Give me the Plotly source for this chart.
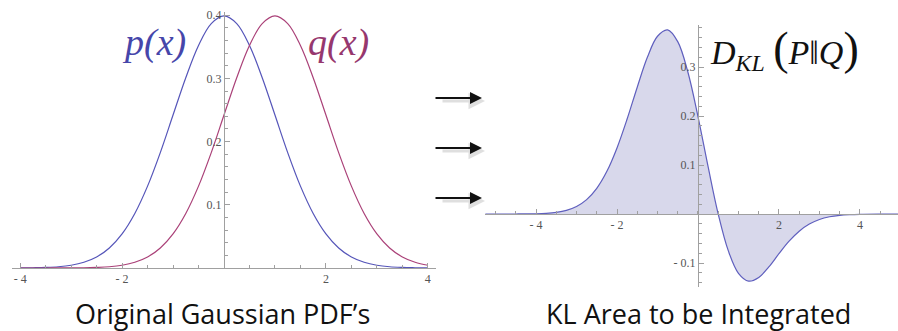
import plotly.graph_objects as go

# ---- data ----
x_pdf = [-4.0, -3.75, -3.5, -3.25, -3.0, -2.75, -2.5, -2.25, -2.0, -1.75, -1.5, -1.25, -1.0,
         -0.75, -0.5, -0.25, 0.0, 0.25, 0.5, 0.75, 1.0, 1.25, 1.5, 1.75, 2.0, 2.25, 2.5,
         2.75, 3.0, 3.25, 3.5, 3.75, 4.0]
p_vals = [0.0001, 0.0004, 0.0009, 0.002, 0.0044, 0.0091, 0.0175, 0.0317, 0.054, 0.0863, 0.1295,
          0.1826, 0.242, 0.3011, 0.3521, 0.3867, 0.3989, 0.3867, 0.3521, 0.3011, 0.242, 0.1826,
          0.1295, 0.0863, 0.054, 0.0317, 0.0175, 0.0091, 0.0044, 0.002, 0.0009, 0.0004, 0.0001]
q_vals = [0.00001, 0.00002, 0.00003, 0.00006, 0.00013, 0.0003, 0.0009, 0.0020, 0.0044, 0.0091, 0.0175,
          0.0317, 0.054, 0.0863, 0.1295, 0.1826, 0.242, 0.3011, 0.3521, 0.3867, 0.3989, 0.3867,
          0.3521, 0.3011, 0.242, 0.1826, 0.1295, 0.0863, 0.054, 0.0317, 0.0175, 0.0091, 0.0044]

x_kl = [-5.25, -5.0, -4.5, -4.0, -3.75, -3.5, -3.25, -3.0, -2.75, -2.5, -2.25, -2.0, -1.75, -1.5,
        -1.25, -1.0, -0.75, -0.5, -0.25, 0.0, 0.25, 0.5, 0.75, 1.0, 1.25, 1.5, 1.75, 2.0,
        2.25, 2.5, 2.75, 3.0, 3.25, 3.5, 3.75, 4.0, 4.5, 4.94]
kl_vals = [0.0, 0.0, 0.0001, 0.0006, 0.0015, 0.0035, 0.0076, 0.0155, 0.0295, 0.0525, 0.0872,
           0.135, 0.194, 0.259, 0.320, 0.363, 0.376, 0.352, 0.290, 0.199, 0.0967, 0.0,
           -0.0753, -0.121, -0.137, -0.1295, -0.108, -0.081, -0.0555, -0.035, -0.0205,
           -0.0111, -0.0056, -0.0026, -0.0012, -0.0005, -0.0001, 0.0]

left_xticks = [-4, -2, 2, 4]
left_xlabels = ["- 4", "- 2", "2", "4"]
left_yticks = [0.1, 0.2, 0.3, 0.4]
left_ylabels = ["0.1", "0.2", "0.3", "0.4"]
right_xticks = [-4, -2, 2, 4]
right_xlabels = ["- 4", "- 2", "2", "4"]
right_yticks = [-0.1, 0.1, 0.2, 0.3]
right_ylabels = ["- 0.1", "0.1", "0.2", "0.3"]

# ---- layout geometry ----
W, H = 898, 331
P_COL = "rgb(85,85,185)"
Q_COL = "rgb(170,65,120)"
AX_COL = "#a0a0a0"
TICK_FONT = dict(family="Liberation Serif", size=12, color="#555")

lx_range = [-4.16, 4.16]
ly_range = [0.0, 0.405]
lx_dom = [12 / W, 436 / W]
ly_dom = [(H - 268) / H, (H - 12) / H]

rx_range = [-5.26, 4.94]
ry_range = [-0.149, 0.386]
rx_dom = [485 / W, 1.0]
ry_dom = [(H - 287) / H, (H - 25) / H]


def frac(v, rng, dom):
    return dom[0] + (v - rng[0]) / (rng[1] - rng[0]) * (dom[1] - dom[0])


def minor_vals(lo, hi, step):
    n = int(round((hi - lo) / step))
    return [round(lo + i * step, 6) for i in range(n + 1)]


fig = go.Figure()
fig.add_trace(go.Scatter(x=x_pdf, y=p_vals, mode="lines", line=dict(color=P_COL, width=1.2, shape="spline"),
                         xaxis="x", yaxis="y", hoverinfo="skip"))
fig.add_trace(go.Scatter(x=x_pdf, y=q_vals, mode="lines", line=dict(color=Q_COL, width=1.2, shape="spline"),
                         xaxis="x", yaxis="y", hoverinfo="skip"))
fig.add_trace(go.Scatter(x=x_kl, y=kl_vals, mode="lines", fill="tozeroy",
                         fillcolor="rgba(61,61,153,0.2)",
                         line=dict(color="rgb(95,95,190)", width=1.2, shape="spline"),
                         xaxis="x2", yaxis="y2", hoverinfo="skip"))


def xaxis_cfg(rng, dom, pos, ticks, labels):
    return dict(range=rng, domain=dom, anchor="free", position=pos, showgrid=False, zeroline=False,
                showline=True, linecolor=AX_COL, linewidth=1, tickmode="array", tickvals=ticks,
                ticktext=labels, ticks="inside", ticklen=5, tickcolor=AX_COL, tickfont=TICK_FONT,
                minor=dict(tickvals=[v for v in minor_vals(-5.0, 5.0, 0.5) if rng[0] < v < rng[1]],
                           ticks="inside", ticklen=3, tickcolor=AX_COL),
                automargin=False, fixedrange=True)


def yaxis_cfg(rng, dom, pos, ticks, labels, mlo, mhi):
    return dict(range=rng, domain=dom, anchor="free", position=pos, showgrid=False, zeroline=False,
                showline=True, linecolor=AX_COL, linewidth=1, tickmode="array", tickvals=ticks,
                ticktext=labels, ticks="inside", ticklen=5, tickcolor=AX_COL, tickfont=TICK_FONT,
                minor=dict(tickvals=minor_vals(mlo, mhi, 0.02), ticks="inside", ticklen=3,
                           tickcolor=AX_COL),
                automargin=False, fixedrange=True)


fig.update_layout(
    width=W, height=H, margin=dict(l=0, r=0, t=0, b=0, autoexpand=False),
    paper_bgcolor="white", plot_bgcolor="white", showlegend=False,
    xaxis=xaxis_cfg(lx_range, lx_dom, frac(0, ly_range, ly_dom), left_xticks, left_xlabels),
    yaxis=yaxis_cfg(ly_range, ly_dom, frac(0, lx_range, lx_dom), left_yticks, left_ylabels, 0.02, 0.40),
    xaxis2=xaxis_cfg(rx_range, rx_dom, frac(0, ry_range, ry_dom), right_xticks, right_xlabels),
    yaxis2=yaxis_cfg(ry_range, ry_dom, frac(0, rx_range, rx_dom), right_yticks, right_ylabels, -0.14, 0.38),
)


def label(xp, yp, text, font):
    return dict(xref="paper", yref="paper", x=xp / W, y=1 - yp / H, xanchor="center", yanchor="middle",
                text=text, showarrow=False, font=font)


ann = [
    label(154, 42, "<i>p(x)</i>", dict(family="Liberation Serif", size=38, color="rgb(70,70,170)")),
    label(338, 42, "<i>q(x)</i>", dict(family="Liberation Serif", size=38, color="rgb(150,55,110)")),
    label(784, 50,
          "<i>D</i><sub><i>KL</i></sub> <span style='font-size:46px'>(</span><i>P</i>‖<i>Q</i><span style='font-size:46px'>)</span>",
          dict(family="Liberation Serif", size=34, color="#111")),
    label(222, 313, "Original Gaussian PDF\u2019s", dict(family="Open Sans", size=27, color="#111")),
    label(698, 313, "KL Area to be Integrated", dict(family="Open Sans", size=27, color="#111")),
]

for yy in [98, 148, 198]:
    ann.append(dict(xref="paper", yref="paper", x=485 / W, y=1 - (yy + 3) / H, ax=-44, ay=0, text="",
                    showarrow=True, arrowhead=2, arrowsize=1.1, arrowwidth=3,
                    arrowcolor="rgba(0,0,0,0.12)"))
    ann.append(dict(xref="paper", yref="paper", x=482 / W, y=1 - yy / H, ax=-48, ay=0, text="",
                    showarrow=True, arrowhead=2, arrowsize=1.2, arrowwidth=2, arrowcolor="#111"))

fig.update_layout(annotations=ann)
fig.write_html("out.html", config={"displayModeBar": False},
               post_script="document.body.style.margin='0';document.body.style.overflow='hidden';")
